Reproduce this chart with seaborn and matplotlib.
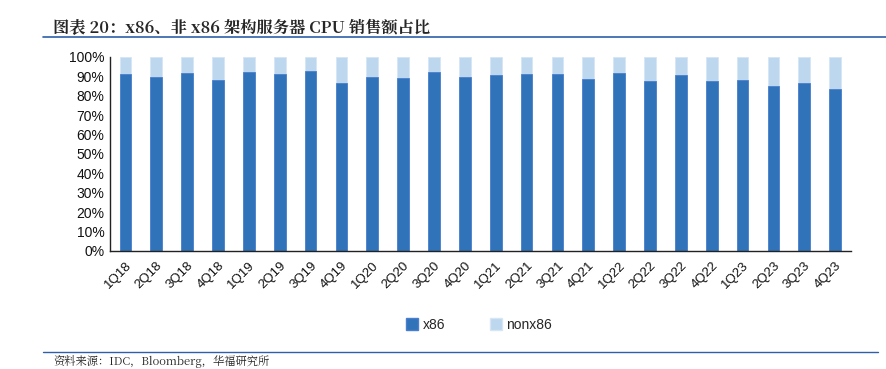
"""
x86 / 非 x86 架构服务器 CPU 销售额占比（堆叠柱状图）
"""

import matplotlib.pyplot as plt
import pandas as pd
import seaborn as sns
from matplotlib.lines import Line2D
from matplotlib.patches import Patch
from matplotlib.ticker import FixedLocator, PercentFormatter

# pylint: disable=invalid-name

quarters = [
    "1Q18", "2Q18", "3Q18", "4Q18", "1Q19", "2Q19", "3Q19", "4Q19",
    "1Q20", "2Q20", "3Q20", "4Q20", "1Q21", "2Q21", "3Q21", "4Q21",
    "1Q22", "2Q22", "3Q22", "4Q22", "1Q23", "2Q23", "3Q23", "4Q23",
]
x86_share = [
    91.2, 89.7, 91.9, 88.1, 92.4, 90.9, 92.6, 86.7,
    89.8, 89.3, 92.4, 89.6, 90.5, 90.9, 91.2, 88.8,
    91.9, 87.8, 90.7, 87.4, 88.1, 85.0, 86.6, 83.5,
]
nonx86_share = [round(100 - v, 1) for v in x86_share]

DARK = "#3173b8"
LIGHT = "#bdd7ee"
LINE_BLUE = "#2f5fa7"
TITLE = "图表 20：x86、非 x86 架构服务器 CPU 销售额占比"
SOURCE = "资料来源：IDC，Bloomberg，华福研究所"
CJK_SERIF = ["Noto Serif CJK SC", "Noto Sans CJK SC", "DejaVu Sans"]

sns.set_theme(style="white")
plt.rcParams["font.family"] = ["Liberation Sans", "Noto Sans CJK SC", "DejaVu Sans"]

df = pd.DataFrame({"quarter": quarters, "x86": x86_share, "nonx86": nonx86_share})
df["total"] = df["x86"] + df["nonx86"]

fig = plt.figure(figsize=(8.87, 3.69), dpi=100)
ax = fig.add_axes([0.124, 0.320, 0.835, 0.526])

sns.barplot(data=df, x="quarter", y="total", color=LIGHT, width=0.38,
            saturation=1, ax=ax, edgecolor="#d6e6f5", linewidth=0.6)
sns.barplot(data=df, x="quarter", y="x86", color=DARK, width=0.38,
            saturation=1, ax=ax, edgecolor="#4a7fd0", linewidth=0.6)

ax.set_xlim(-0.5, len(quarters) - 0.5)
ax.set_ylim(0, 100)
ax.set_yticks(range(0, 101, 10))
ax.yaxis.set_major_formatter(PercentFormatter(decimals=0))
ax.set(xlabel=None, ylabel=None)

for side in ("top", "right"):
    ax.spines[side].set_visible(False)
for side in ("left", "bottom"):
    ax.spines[side].set_color("#222222")
    ax.spines[side].set_linewidth(1.0)

ax.tick_params(axis="y", length=0, pad=4, labelsize=10, colors="#111111")
ax.tick_params(axis="x", which="major", length=0, pad=6, labelsize=9.5,
               colors="#111111")
ax.xaxis.set_minor_locator(FixedLocator([i + 0.5 for i in range(-1, len(quarters))]))
ax.tick_params(axis="x", which="minor", direction="in", length=4, width=1,
               color="#222222")
plt.setp(ax.get_xticklabels(), rotation=45, ha="right", rotation_mode="anchor")

handles = [Patch(facecolor=DARK, edgecolor="#4a7fd0"),
           Patch(facecolor=LIGHT, edgecolor="#d6e6f5")]
fig.legend(handles, ["x86", "nonx86"], loc="center", bbox_to_anchor=(0.54, 0.12),
           ncol=2, frameon=False, fontsize=10, handlelength=0.9,
           handleheight=0.9, handletextpad=0.3, columnspacing=3.2)

fig.text(0.06, 0.925, TITLE, fontsize=11.7, fontweight="bold", family=CJK_SERIF,
         ha="left", va="center")
fig.add_artist(Line2D([0.048, 1.0], [0.9, 0.9], color=LINE_BLUE, lw=1.2,
                      transform=fig.transFigure))
fig.add_artist(Line2D([0.048, 0.99], [0.046, 0.046], color=LINE_BLUE, lw=1.0,
                      transform=fig.transFigure))
fig.text(0.06, 0.02, SOURCE, fontsize=8.1, family=CJK_SERIF,
         ha="left", va="center")

fig.savefig("out.png", dpi=100)
